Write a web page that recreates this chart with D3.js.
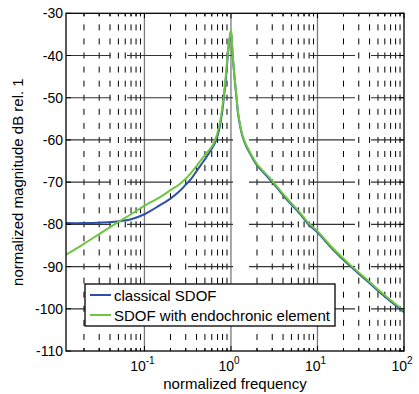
<!DOCTYPE html>
<html>
<head>
<meta charset="utf-8">
<script src="https://cdn.jsdelivr.net/npm/d3@7/dist/d3.min.js"></script>
<style>
    body { margin: 0; background: #fff; }
    svg text { font-family: Arial, "Liberation Sans", Helvetica, sans-serif; fill: #000; }
</style>
</head>
<body>
<div id="chart"></div>
<script>
// normalized frequency (shared by both curves)
const freq = [0.0124, 0.02, 0.03, 0.045, 0.07, 0.1, 0.15, 0.2, 0.25, 0.3, 0.35, 0.4, 0.45, 0.5, 0.55,
    0.6, 0.65, 0.693, 0.75, 0.815, 0.87, 0.914, 0.96, 0.985, 1.0, 1.02, 1.045, 1.1, 1.16, 1.21, 1.27,
    1.36, 1.5, 1.66, 2.0, 2.58, 3.0, 4.0, 5.0, 6.27, 7.8, 10, 15, 23, 37, 57.6, 100];

// classical SDOF, dB
const classicalDb = [-79.7, -79.7, -79.6, -79.4, -78.8, -77.6, -75.5, -73.9, -72.3, -70.6, -69.1, -67.4, -65.9, -64.6, -63.3,
    -62.1, -60.8, -59.3, -56.4, -51.3, -45.8, -40.6, -36.4, -35.0, -34.4, -36.1, -39.8, -45.3, -50.1, -53.9, -56.5,
    -59.2, -61.5, -63.2, -66.0, -68.5, -70.0, -73.1, -75.3, -77.5, -79.9, -81.9, -85.9, -89.6, -93.3, -96.8, -100.8];

// SDOF with endochronic element, dB
const endochronicDb = [-87.2, -84.6, -82.3, -80.0, -77.6, -75.6, -73.6, -71.9, -70.6, -69.2, -67.7, -66.2, -64.8, -63.6, -62.6,
    -61.6, -60.2, -58.6, -55.6, -50.5, -45.0, -40.0, -36.0, -34.6, -34.0, -35.8, -39.5, -45.0, -49.8, -53.6, -56.2,
    -58.9, -61.2, -62.9, -65.7, -68.2, -69.7, -72.8, -75.0, -77.2, -79.6, -81.6, -85.6, -89.3, -93.0, -96.5, -100.5];

const yTicks = [-110, -100, -90, -80, -70, -60, -50, -40, -30];
const xDecades = [0.1, 1, 10, 100];
const xDecadeExp = ["-1", "0", "1", "2"];
const seriesNames = ["classical SDOF", "SDOF with endochronic element"];

class FrfPlot
{
    constructor(_config)
    {
        this.config =
        {
            parentElement: _config.parentElement,
            containerWidth: _config.containerWidth || 419,
            containerHeight: _config.containerHeight || 394,
            margin: _config.margin || {top: 13.3, right: 15, bottom: 43, left: 66},
            colors: ["#2f4ea8", "#6cc63f"],
            tickFont: 14,
            labelFont: 15
        }
        this.initVis();
    }

    initVis()
    {
        let vis = this;
        let m = vis.config.margin;

        vis.width = vis.config.containerWidth - m.left - m.right;
        vis.height = vis.config.containerHeight - m.top - m.bottom;

        vis.svg = d3.select(vis.config.parentElement).append('svg')
            .attr('width', vis.config.containerWidth)
            .attr('height', vis.config.containerHeight);

        vis.x = d3.scaleLog()
            .domain([0.0124, 100])
            .range([m.left, m.left + vis.width]);

        vis.y = d3.scaleLinear()
            .domain([-110, -30])
            .range([m.top + vis.height, m.top]);

        vis.drawGrid();
        vis.drawCurves();
        vis.drawAxes();
        vis.drawLegend();
    }

    drawGrid()
    {
        let vis = this;
        let top = vis.y(-30), bottom = vis.y(-110);
        let left = vis.x.range()[0], right = vis.x.range()[1];
        let minor = vis.x.ticks().filter(t => !xDecades.some(d => Math.abs(t - d) < 1e-9));
        let period = (vis.y(-40) - vis.y(-30)) / 3;

        let g = vis.svg.append('g').attr('class', 'grid');

        // minor vertical grid, short dashes
        g.selectAll('.vminor')
            .data(minor)
            .enter().append('line')
                .attr('x1', d => vis.x(d)).attr('x2', d => vis.x(d))
                .attr('y1', top).attr('y2', bottom)
                .attr('stroke', '#000')
                .attr('stroke-width', 1)
                .attr('stroke-dasharray', `6,${period - 6}`)
                .attr('stroke-dashoffset', 3);

        // decade lines
        g.selectAll('.vmajor')
            .data(xDecades.slice(0, 3))
            .enter().append('line')
                .attr('x1', d => vis.x(d)).attr('x2', d => vis.x(d))
                .attr('y1', top).attr('y2', bottom)
                .attr('stroke', '#7a7a7a')
                .attr('stroke-width', 1.3);

        // horizontal grid, long dashes
        g.selectAll('.hgrid')
            .data(yTicks.slice(1, -1))
            .enter().append('line')
                .attr('x1', left).attr('x2', right)
                .attr('y1', d => vis.y(d)).attr('y2', d => vis.y(d))
                .attr('stroke', '#333')
                .attr('stroke-width', 1.2)
                .attr('stroke-dasharray', '45,16');
    }

    drawCurves()
    {
        let vis = this;

        vis.svg.append('clipPath').attr('id', 'plot-clip')
            .append('rect')
                .attr('x', vis.x.range()[0]).attr('y', vis.y(-30))
                .attr('width', vis.width).attr('height', vis.height);

        let line = d3.line()
            .x(d => vis.x(d[0]))
            .y(d => vis.y(d[1]))
            .curve(d3.curveCatmullRom.alpha(0.5));

        let series = [classicalDb, endochronicDb].map(s => freq.map((f, i) => [f, s[i]]));

        vis.svg.append('g')
            .attr('clip-path', 'url(#plot-clip)')
            .selectAll('path')
            .data(series)
            .enter().append('path')
                .attr('d', line)
                .attr('fill', 'none')
                .attr('stroke', (d, i) => vis.config.colors[i])
                .attr('stroke-width', 2)
                .attr('stroke-linejoin', 'round');
    }

    drawAxes()
    {
        let vis = this;
        let top = vis.y(-30), bottom = vis.y(-110);
        let left = vis.x.range()[0], right = vis.x.range()[1];

        let g = vis.svg.append('g').attr('class', 'axes');

        // box
        g.append('rect')
            .attr('x', left).attr('y', top)
            .attr('width', right - left).attr('height', bottom - top)
            .attr('fill', 'none')
            .attr('stroke', '#000')
            .attr('stroke-width', 1.3);

        // inward x ticks top and bottom
        let xt = vis.x.ticks();
        let isMajor = t => xDecades.some(d => Math.abs(t - d) < 1e-9);
        [bottom, top].forEach((yy, k) => {
            g.selectAll(null)
                .data(xt)
                .enter().append('line')
                    .attr('x1', d => vis.x(d)).attr('x2', d => vis.x(d))
                    .attr('y1', yy)
                    .attr('y2', d => yy + (k === 0 ? -1 : 1) * (isMajor(d) ? 5 : 3))
                    .attr('stroke', '#000');
        });

        // inward y ticks left and right
        [left, right].forEach((xx, k) => {
            g.selectAll(null)
                .data(yTicks)
                .enter().append('line')
                    .attr('x1', xx)
                    .attr('x2', xx + (k === 0 ? 5 : -5))
                    .attr('y1', d => vis.y(d)).attr('y2', d => vis.y(d))
                    .attr('stroke', '#000');
        });

        // y tick labels
        g.selectAll('.ylab')
            .data(yTicks)
            .enter().append('text')
                .attr('x', left - 3)
                .attr('y', d => vis.y(d) + 5)
                .attr('text-anchor', 'end')
                .attr('font-size', vis.config.tickFont)
                .text(d => d);

        // x tick labels with exponents
        let xl = g.selectAll('.xlab')
            .data(xDecades)
            .enter().append('text')
                .attr('x', d => vis.x(d) - 2)
                .attr('y', bottom + 19.5)
                .attr('text-anchor', 'middle')
                .attr('font-size', vis.config.tickFont);
        xl.append('tspan').text('10');
        xl.append('tspan')
            .attr('dy', -7)
            .attr('font-size', 10)
            .text((d, i) => xDecadeExp[i]);

        // axis titles
        g.append('text')
            .attr('x', (left + right) / 2)
            .attr('y', bottom + 37.5)
            .attr('text-anchor', 'middle')
            .attr('font-size', vis.config.labelFont)
            .text('normalized frequency');

        g.append('text')
            .attr('transform', `translate(23, ${(top + bottom) / 2}) rotate(-90)`)
            .attr('text-anchor', 'middle')
            .attr('font-size', vis.config.labelFont)
            .text('normalized magnitude dB rel. 1');
    }

    drawLegend()
    {
        let vis = this;
        let lg = vis.svg.append('g').attr('transform', 'translate(85, 284)');

        lg.append('rect')
            .attr('width', 250).attr('height', 42)
            .attr('fill', '#fff')
            .attr('stroke', '#000')
            .attr('stroke-width', 1.3);

        let items = lg.selectAll('.item')
            .data(seriesNames)
            .enter().append('g')
                .attr('transform', (d, i) => `translate(0, ${11 + i * 20})`);

        items.append('line')
            .attr('x1', 5).attr('x2', 26)
            .attr('stroke', (d, i) => vis.config.colors[i])
            .attr('stroke-width', 2);

        items.append('text')
            .attr('x', 29)
            .attr('y', 5.5)
            .attr('font-size', vis.config.labelFont)
            .text(d => d);
    }
}

new FrfPlot({parentElement: '#chart'});
</script>
</body>
</html>
